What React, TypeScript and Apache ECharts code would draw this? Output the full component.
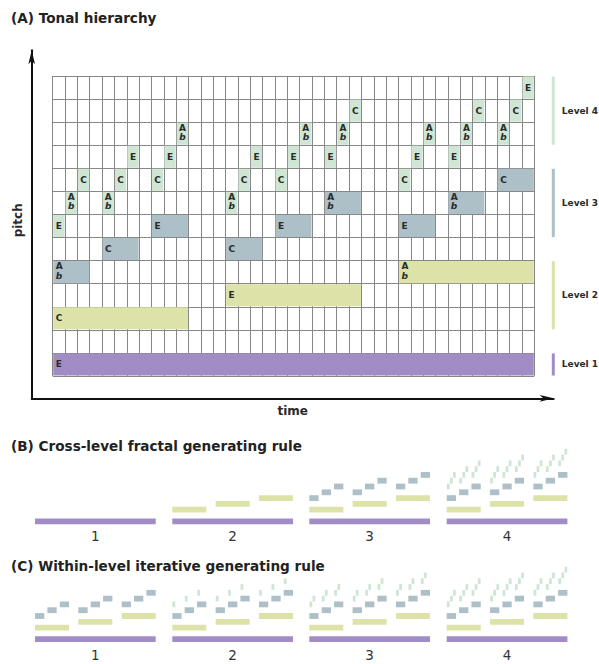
import React, { useEffect, useRef } from 'react';
import * as echarts from 'echarts';

// ---------- data ----------
const COLS = 39;
const ROWS = 13;
// pitch index 0 (bottom row) .. 12 (top row)
const pitchNames = ['E', '', 'C', 'E', 'Ab', 'C', 'E', 'Ab', 'C', 'E', 'Ab', 'C', 'E'];

const level1Start = [0];
const level1Len = [39];
const level1Pitch = [0];

const level2Start = [0, 14, 28];
const level2Len = [11, 11, 11];
const level2Pitch = [2, 3, 4];

const level3Start = [0, 4, 8, 14, 18, 22, 28, 32, 36];
const level3Len = [3, 3, 3, 3, 3, 3, 3, 3, 3];
const level3Pitch = [4, 5, 6, 5, 6, 7, 6, 7, 8];

const level4Col = [0, 1, 2, 4, 5, 6, 8, 9, 10, 14, 15, 16, 18, 19, 20, 22, 23, 24, 28, 29, 30, 32, 33, 34, 36, 37, 38];
const level4Pitch = [6, 7, 8, 7, 8, 9, 8, 9, 10, 7, 8, 9, 8, 9, 10, 9, 10, 11, 8, 9, 10, 9, 10, 11, 10, 11, 12];
const level4Step = [0, 1, 2, 0, 1, 2, 0, 1, 2, 0, 1, 2, 0, 1, 2, 0, 1, 2, 0, 1, 2, 0, 1, 2, 0, 1, 2];

const levelNames = ['Level 4', 'Level 3', 'Level 2', 'Level 1'];
const levelIds = [4, 3, 2, 1];
const levelLow = [10, 6, 2, 0];
const levelHigh = [12, 8, 4, 0];

const stageLabels = ['1', '2', '3', '4'];
const titleTexts = [
  '(A) Tonal hierarchy',
  '(B) Cross-level fractal generating rule',
  '(C) Within-level iterative generating rule',
];

// ---------- styles ----------
const levelColors: Record<number, string> = {
  1: '#a28cc5',
  2: '#dde3a8',
  3: '#adbfc7',
  4: '#cfe6d5',
};
const FONT = '"DejaVu Sans", "Liberation Sans", Arial, sans-serif';
const TEXT = '#2a2a2a';

type Note = { value: number[] };

function notes(start: number[], len: number[], pitch: number[], level: number, step?: number[]): Note[] {
  return start.map((s, i) => ({ value: [s, len[i], pitch[i], level, step ? step[i] : 0] }));
}

const allL1 = notes(level1Start, level1Len, level1Pitch, 1);
const allL2 = notes(level2Start, level2Len, level2Pitch, 2);
const allL3 = notes(level3Start, level3Len, level3Pitch, 3);
const allL4 = notes(level4Col, level4Col.map(() => 1), level4Pitch, 4, level4Step);

export default function App() {
  const ref = useRef<HTMLDivElement>(null);

  useEffect(() => {
    if (!ref.current) return;
    const chart = echarts.init(ref.current, null, { renderer: 'svg' });

    const mainRender = (params: any, api: any) => {
      const s = api.value(0);
      const len = api.value(1);
      const p = api.value(2);
      const lvl = api.value(3);
      const a = api.coord([s, p + 1]);
      const b = api.coord([s + len, p]);
      const x = a[0] + 0.5;
      const y = a[1] + 0.5;
      const w = b[0] - a[0] - 1;
      const h = b[1] - a[1] - 1;
      const children: any[] = [
        { type: 'rect', shape: { x, y, width: w, height: h }, style: { fill: levelColors[lvl] } },
      ];
      const name = pitchNames[p];
      const single = len === 1;
      const tx = single ? a[0] + (b[0] - a[0]) / 2 : a[0] + 3;
      const align = single ? 'center' : 'left';
      if (name === 'Ab') {
        children.push({
          type: 'text', x: tx, y: a[1] + 5.8,
          style: { text: 'A', fill: TEXT, font: `bold 9px ${FONT}`, align, verticalAlign: 'middle' },
        });
        children.push({
          type: 'text', x: tx, y: a[1] + 15,
          style: { text: 'b', fill: TEXT, font: `italic bold 9px ${FONT}`, align, verticalAlign: 'middle' },
        });
      } else if (name) {
        children.push({
          type: 'text', x: tx, y: (a[1] + b[1]) / 2,
          style: { text: name, fill: TEXT, font: `bold 9px ${FONT}`, align, verticalAlign: 'middle' },
        });
      }
      return { type: 'group', children };
    };

    const miniRender = (params: any, api: any) => {
      const s = api.value(0);
      const len = api.value(1);
      const p = api.value(2);
      const lvl = api.value(3);
      const a = api.coord([s, p + 1]);
      const b = api.coord([s + len, p]);
      const cw = b[0] - a[0];
      let w = cw;
      let x = a[0];
      if (lvl === 4) {
        w = cw * 0.9;
        x = a[0] + (cw - w) / 2;
      }
      return {
        type: 'rect',
        shape: { x, y: a[1], width: w, height: b[1] - a[1] },
        style: { fill: levelColors[lvl] },
      };
    };

    const levelRender = (params: any, api: any) => {
      const i = params.dataIndex;
      const low = api.value(0);
      const high = api.value(1);
      const top = api.coord([COLS, high + 1]);
      const bot = api.coord([COLS, low]);
      return {
        type: 'group',
        children: [
          {
            type: 'rect',
            shape: { x: top[0] + 17.5, y: top[1] + 0.5, width: 3, height: bot[1] - top[1] - 1 },
            style: { fill: levelColors[levelIds[i]] },
          },
          {
            type: 'text', x: top[0] + 27.5, y: (top[1] + bot[1]) / 2,
            style: { text: levelNames[i], fill: TEXT, font: `bold 9px ${FONT}`, align: 'left', verticalAlign: 'middle' },
          },
        ],
      };
    };

    const miniLefts = [35, 172.3, 309.3, 446.7];
    const miniW = 120.7;
    const miniH = 75.4;
    const bTop = 448.8;
    const cTop = 566.7;

    const grids: any[] = [
      { left: 31.7, top: 50.3, width: 522, height: 348 },
      { left: 52.7, top: 76, width: 481.6, height: 300 },
    ];
    const arrowLine = {
      show: true, symbol: ['none', 'arrow'], symbolSize: [5, 14],
      lineStyle: { color: '#111', width: 2 },
    };
    const xAxes: any[] = [
      {
        gridIndex: 0, type: 'value', min: 0, max: 1,
        axisLine: arrowLine,
        axisTick: { show: false }, axisLabel: { show: false }, splitLine: { show: false },
        name: 'time', nameLocation: 'middle', nameGap: 7,
        nameTextStyle: { fontFamily: FONT, fontWeight: 'bold', fontSize: 12, color: TEXT },
      },
      {
        gridIndex: 1, type: 'value', min: 0, max: COLS, interval: 1,
        axisLine: { show: false }, axisTick: { show: false }, axisLabel: { show: false },
        splitLine: { show: true, lineStyle: { color: '#878787', width: 1 } },
      },
    ];
    const yAxes: any[] = [
      {
        gridIndex: 0, type: 'value', min: 0, max: 1,
        axisLine: arrowLine,
        axisTick: { show: false }, axisLabel: { show: false }, splitLine: { show: false },
        name: 'pitch', nameLocation: 'middle', nameGap: 8,
        nameTextStyle: { fontFamily: FONT, fontWeight: 'bold', fontSize: 12, color: TEXT, padding: [0, 0, 0, 8] },
      },
      {
        gridIndex: 1, type: 'value', min: 0, max: ROWS, interval: 1,
        axisLine: { show: false }, axisTick: { show: false }, axisLabel: { show: false },
        splitLine: { show: true, lineStyle: { color: '#878787', width: 1 } },
      },
    ];
    const series: any[] = [
      {
        type: 'custom', xAxisIndex: 1, yAxisIndex: 1, renderItem: mainRender, clip: false,
        data: [...allL1, ...allL2, ...allL3, ...allL4],
      },
      {
        type: 'custom', xAxisIndex: 1, yAxisIndex: 1, renderItem: levelRender, clip: false,
        data: levelLow.map((l, i) => ({ value: [l, levelHigh[i]] })),
      },
    ];

    const addMini = (top: number, k: number, data: Note[], gap: number) => {
      const gi = grids.length;
      grids.push({ left: miniLefts[k], top, width: miniW, height: miniH });
      xAxes.push({
        gridIndex: gi, type: 'value', min: 0, max: COLS,
        axisLine: { show: false }, axisTick: { show: false }, axisLabel: { show: false }, splitLine: { show: false },
        name: stageLabels[k], nameLocation: 'middle', nameGap: gap,
        nameTextStyle: { fontFamily: FONT, fontSize: 13.5, color: '#333' },
      });
      yAxes.push({
        gridIndex: gi, type: 'value', min: 0, max: ROWS, show: false,
      });
      series.push({
        type: 'custom', xAxisIndex: gi, yAxisIndex: gi, renderItem: miniRender, clip: false, data,
      });
    };

    // (B) cross-level: stage k adds level k+1
    const bLevels = [allL1, allL2, allL3, allL4];
    for (let k = 0; k < 4; k++) {
      const data: Note[] = [];
      for (let l = 0; l <= k; l++) data.push(...bLevels[l]);
      addMini(bTop, k, data, 5);
    }
    // (C) within-level: stage k shows k notes of level 4 per level-3 note
    for (let k = 0; k < 4; k++) {
      const data: Note[] = [...allL1, ...allL2, ...allL3, ...allL4.filter((n) => n.value[4] < k)];
      addMini(cTop, k, data, 6);
    }

    const titleY = [17.7, 445.8, 566.2];
    chart.setOption({
      animation: false,
      grid: grids,
      xAxis: xAxes,
      yAxis: yAxes,
      series,
      graphic: titleTexts.map((t, i) => ({
        type: 'text', x: 11, y: titleY[i],
        style: { text: t, fill: '#222', font: `bold 13.6px ${FONT}`, align: 'left', verticalAlign: 'middle' },
      })),
    });

    return () => chart.dispose();
  }, []);

  return <div ref={ref} style={{ position: 'absolute', left: 0, top: 0, width: 599, height: 664 }} />;
}
